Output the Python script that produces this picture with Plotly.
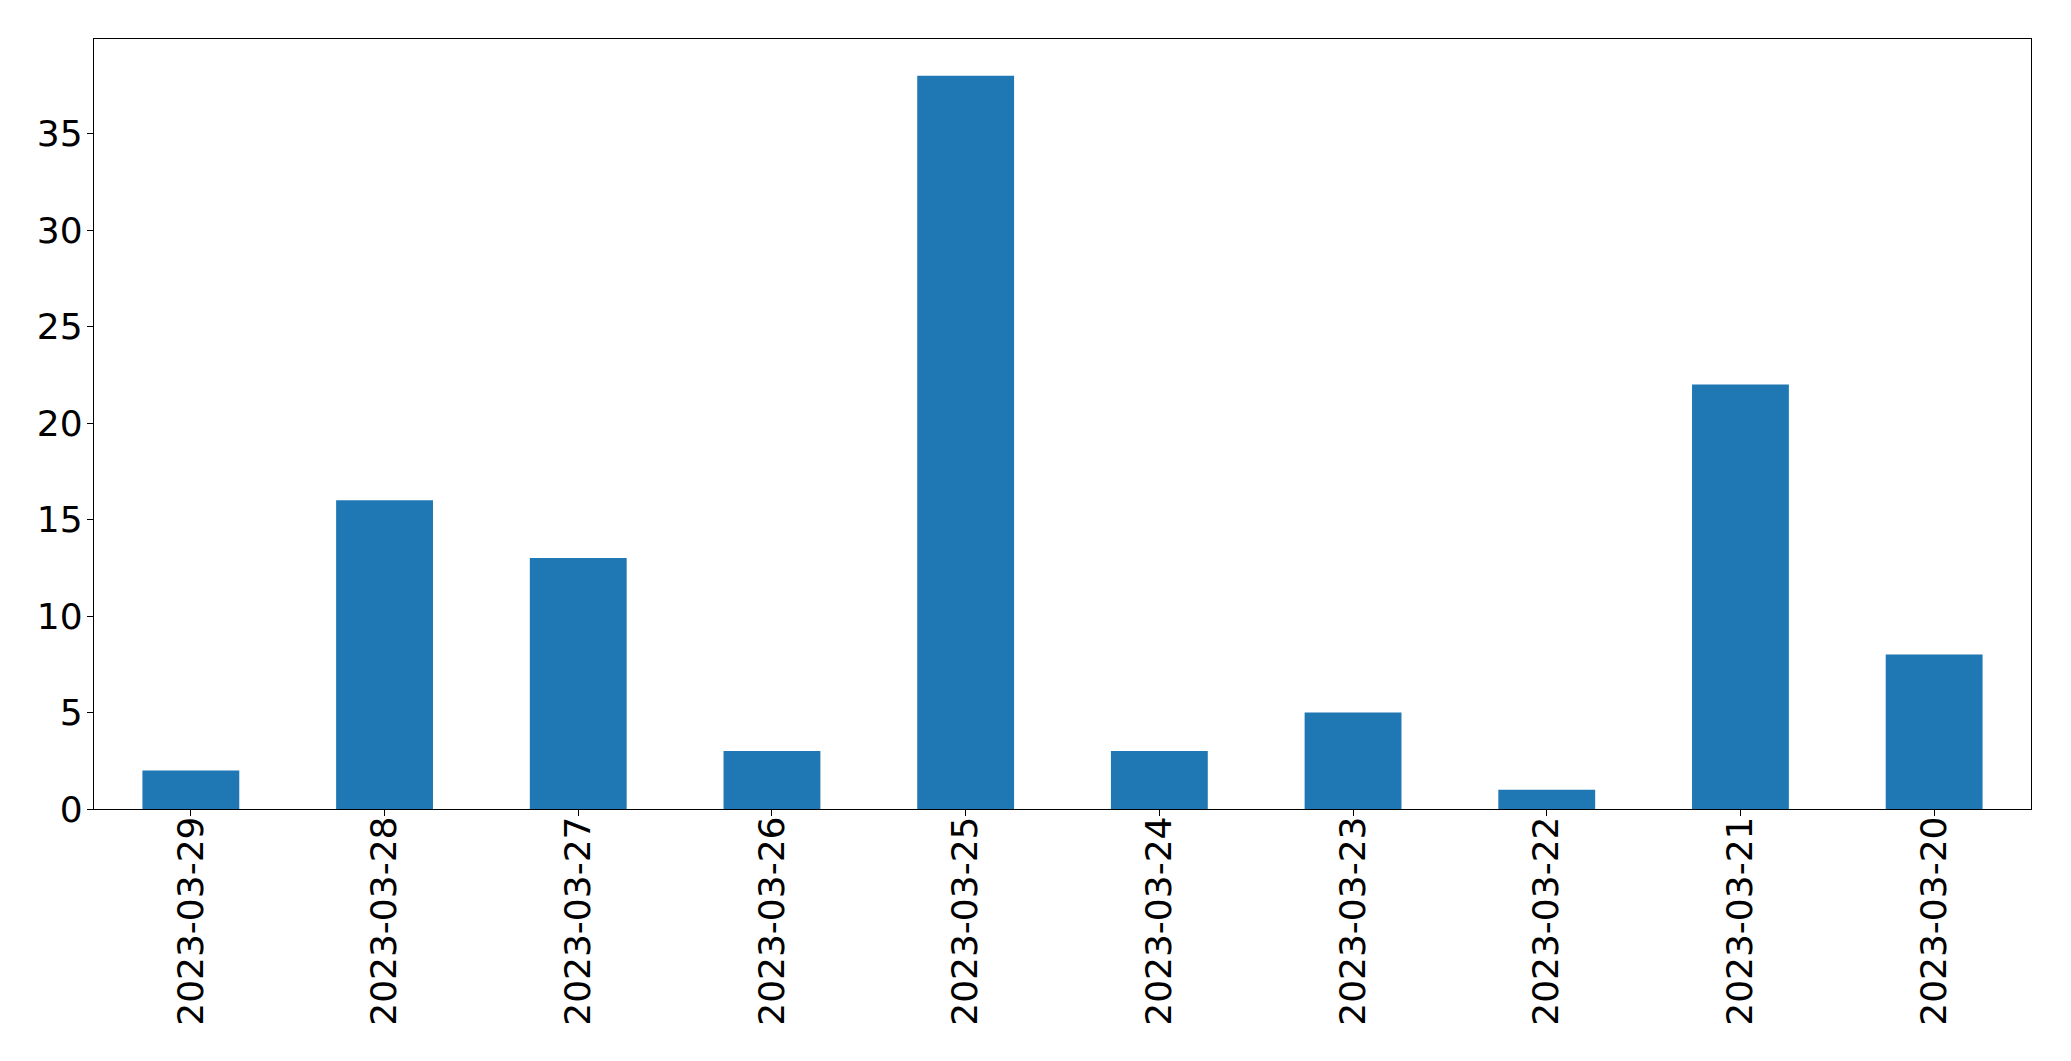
import plotly.graph_objects as go

dates = ["2023-03-29", "2023-03-28", "2023-03-27", "2023-03-26", "2023-03-25",
         "2023-03-24", "2023-03-23", "2023-03-22", "2023-03-21", "2023-03-20"]
counts = [2, 16, 13, 3, 38, 3, 5, 1, 22, 8]
y_ticks = [0, 5, 10, 15, 20, 25, 30, 35]

fig = go.Figure(go.Bar(x=dates, y=counts, marker_color="#1f77b4",
                       marker_line_width=0, width=0.5))

# page body has an 8px default margin; compensate so plot area lands at x 94-2031, y 39-809
fig.update_layout(
    width=2063, height=1053,
    margin=dict(l=86, r=40, t=31, b=252, autoexpand=False),
    paper_bgcolor="white", plot_bgcolor="white",
    font=dict(family="DejaVu Sans", size=36, color="black"),
    showlegend=False,
)
fig.update_xaxes(type="category", range=[-0.5, 9.5], tickangle=-90,
                 automargin=False, ticklabelstandoff=-14,
                 showline=True, mirror=True, linecolor="black", linewidth=1.3,
                 ticks="outside", ticklen=6, tickcolor="black", tickwidth=1.3,
                 showgrid=False, zeroline=False)
fig.update_yaxes(range=[0, 39.9], tickvals=y_ticks, automargin=False,
                 ticklabelstandoff=-3,
                 showline=True, mirror=True, linecolor="black", linewidth=1.3,
                 ticks="outside", ticklen=6, tickcolor="black", tickwidth=1.3,
                 showgrid=False, zeroline=False)

fig.write_html("out.html")
